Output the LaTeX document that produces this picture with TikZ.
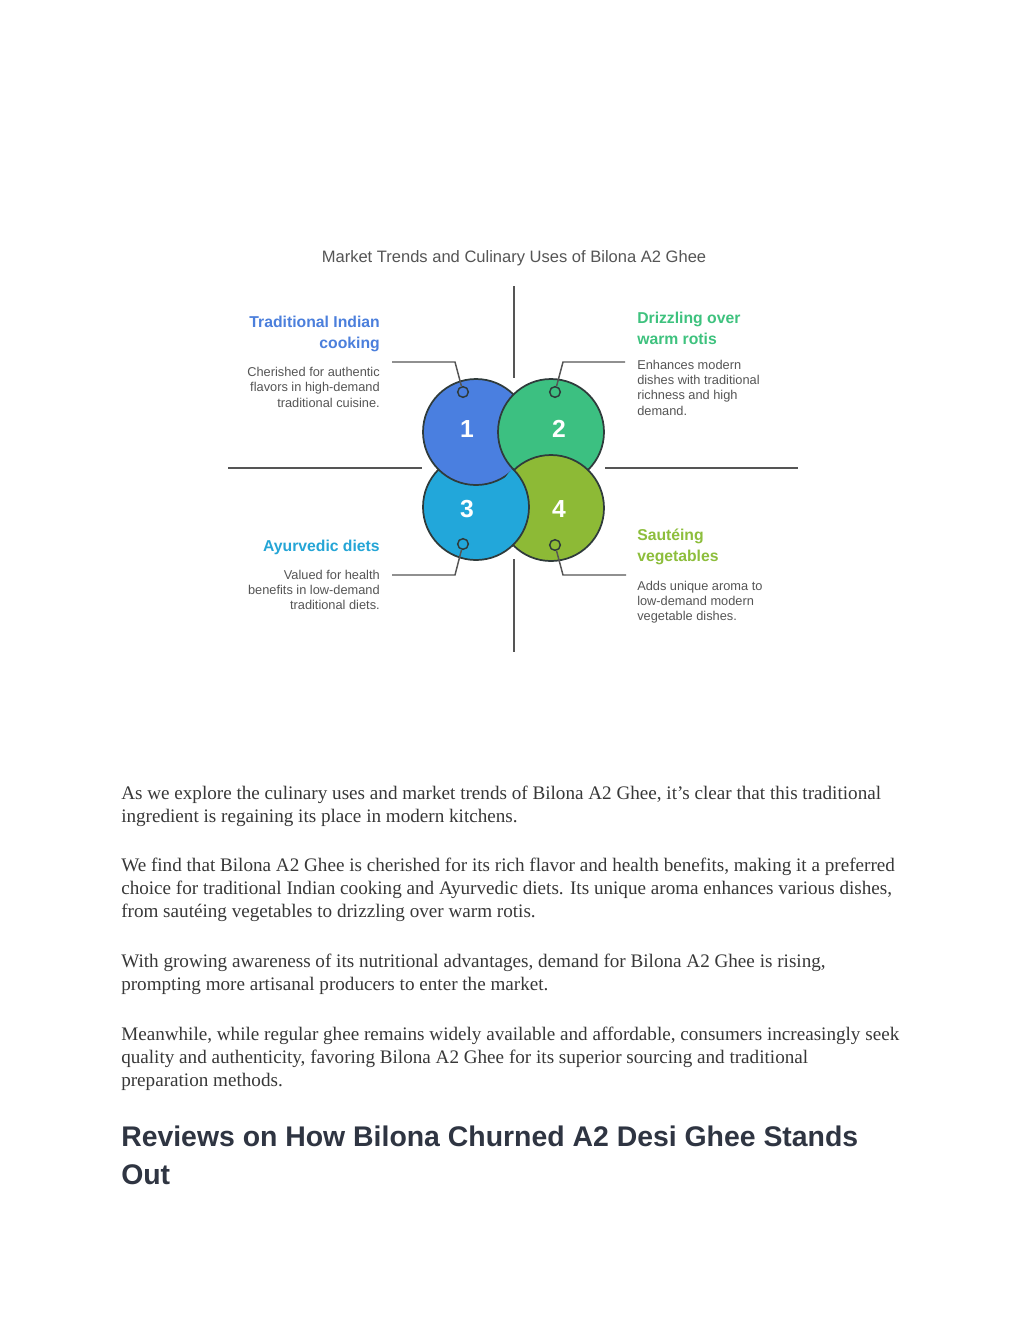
\documentclass[tikz,border=0pt]{standalone}
\usepackage{fontspec}
\setmainfont{Liberation Serif}
\setsansfont{Liberation Sans}
\newfontfamily\diag{Liberation Sans}
\definecolor{cA}{HTML}{4A7FE0}
\definecolor{cB}{HTML}{3CC081}
\definecolor{cC}{HTML}{22A7DA}
\definecolor{cD}{HTML}{8DBA36}
\definecolor{hA}{HTML}{4B7FDC}
\definecolor{hB}{HTML}{3EC27E}
\definecolor{hC}{HTML}{24A5D6}
\definecolor{hD}{HTML}{8DBE3C}
\definecolor{rim}{HTML}{2F3B3B}
\definecolor{greytxt}{HTML}{555555}
\definecolor{paratxt}{HTML}{383838}
\definecolor{headtxt}{HTML}{2F3542}
\definecolor{axis}{HTML}{555555}
\tikzset{
  disc/.style={draw=rim, line width=1.3pt},
  num/.style={text=white, font=\diag\bfseries\fontsize{18.5}{20}\selectfont, inner sep=0pt},
  dot/.style={circle, draw=rim, line width=1.1pt, minimum size=8pt, inner sep=0pt},
  leader/.style={draw=axis, line width=1.1pt},
  axisline/.style={draw=axis, line width=1.4pt},
  headL/.style={anchor=north east, align=right, inner sep=0pt, font=\diag\bfseries\fontsize{11.8}{15.75}\selectfont},
  headR/.style={anchor=north west, align=left, inner sep=0pt, font=\diag\bfseries\fontsize{11.8}{15.75}\selectfont},
  bodyL/.style={anchor=north east, align=right, inner sep=0pt, text=greytxt, font=\diag\fontsize{9.6}{11.5}\selectfont},
  bodyR/.style={anchor=north west, align=left, inner sep=0pt, text=greytxt, font=\diag\fontsize{9.6}{11.5}\selectfont},
  para/.style={anchor=north west, align=left, inner sep=0pt, text=paratxt, font=\fontsize{14.35}{17.25}\selectfont},
}
\begin{document}
\begin{tikzpicture}[x=0.75pt,y=-0.75pt]
\useasboundingbox[fill=white] (0,0) rectangle (1024,1325);

% title
\node[anchor=north, inner sep=0pt, text=greytxt, font=\diag\fontsize{12.4}{15}\selectfont] (t0) at (514,250) {Market Trends and Culinary Uses of Bilona A2 Ghee};

% axes
\coordinate (axT1) at (514,286);
\coordinate (axT2) at (514,378);
\coordinate (axB1) at (514,559);
\coordinate (axB2) at (514,652);
\coordinate (axL1) at (228,468);
\coordinate (axL2) at (422,468);
\coordinate (axR1) at (605,468);
\coordinate (axR2) at (798,468);
\draw[axisline] (axT1) -- (axT2);
\draw[axisline] (axB1) -- (axB2);
\draw[axisline] (axL1) -- (axL2);
\draw[axisline] (axR1) -- (axR2);

% circles
\coordinate (c1) at (476,432);
\coordinate (c2) at (551,432);
\coordinate (c3) at (476,507);
\coordinate (c4) at (551,508);
\path[disc, fill=cC] (c3) circle[radius=39.75pt];
\path[disc, fill=cA] (c1) circle[radius=39.75pt];
\path[disc, fill=cB] (c2) circle[radius=39.75pt];
\path[disc, fill=cD] (c4) circle[radius=39.75pt];
\begin{scope}
  \clip (c4) circle[radius=41.2pt];
  \path[disc, fill=cC] (c3) circle[radius=39.75pt];
\end{scope}

\node[num] (n1) at (467,429) {1};
\node[num] (n2) at (559,429) {2};
\node[num] (n3) at (467,509) {3};
\node[num] (n4) at (559,509) {4};

% leader dots and lines
\node[dot, fill=cA] (d1) at (463,392) {};
\node[dot, fill=cB] (d2) at (555,392) {};
\node[dot, fill=cC] (d3) at (463,544) {};
\node[dot, fill=cD] (d4) at (555,545) {};
\coordinate (k1) at (455,362);
\coordinate (e1) at (392,362);
\coordinate (k2) at (563,362);
\coordinate (e2) at (625,362);
\coordinate (k3) at (455,575);
\coordinate (e3) at (392,575);
\coordinate (k4) at (563,575);
\coordinate (e4) at (626,575);
\draw[leader] (d1) -- (k1) -- (e1);
\draw[leader] (d2) -- (k2) -- (e2);
\draw[leader] (d3) -- (k3) -- (e3);
\draw[leader] (d4) -- (k4) -- (e4);

% labels
\node[headL, text=hA] (h1) at (380,315.5) {Traditional Indian\\cooking};
\node[bodyL] (b1) at (380,367) {Cherished for authentic\\flavors in high-demand\\traditional cuisine.};
\node[headR, text=hB] (h2) at (637,311.5) {Drizzling over\\warm rotis};
\node[bodyR] (b2) at (637,359.5) {Enhances modern\\dishes with traditional\\richness and high\\demand.};
\node[headL, text=hC] (h3) at (380,539.5) {Ayurvedic diets};
\node[bodyL] (b3) at (380,569.5) {Valued for health\\benefits in low-demand\\traditional diets.};
\node[headR, text=hD] (h4) at (637,529) {Sautéing\\vegetables};
\node[bodyR] (b4) at (637,580.5) {Adds unique aroma to\\low-demand modern\\vegetable dishes.};

% article text
\node[para] (p1) at (121,786) {As we explore the culinary uses and market trends of Bilona A2 Ghee, it’s clear that this traditional\\ingredient is regaining its place in modern kitchens.};
\node[para] (p2) at (121,858) {We find that Bilona A2 Ghee is cherished for its rich flavor and health benefits, making it a preferred\\choice for traditional Indian cooking and Ayurvedic diets. Its unique aroma enhances various dishes,\\from sautéing vegetables to drizzling over warm rotis.};
\node[para] (p3) at (121,954) {With growing awareness of its nutritional advantages, demand for Bilona A2 Ghee is rising,\\prompting more artisanal producers to enter the market.};
\node[para] (p4) at (121,1027) {Meanwhile, while regular ghee remains widely available and affordable, consumers increasingly seek\\quality and authenticity, favoring Bilona A2 Ghee for its superior sourcing and traditional\\preparation methods.};
\node[anchor=north west, align=left, inner sep=0pt, text=headtxt, font=\sffamily\bfseries\fontsize{21.3}{28.5}\selectfont] (r1) at (121,1126) {Reviews on How Bilona Churned A2 Desi Ghee Stands\\Out};
\end{tikzpicture}
\end{document}
